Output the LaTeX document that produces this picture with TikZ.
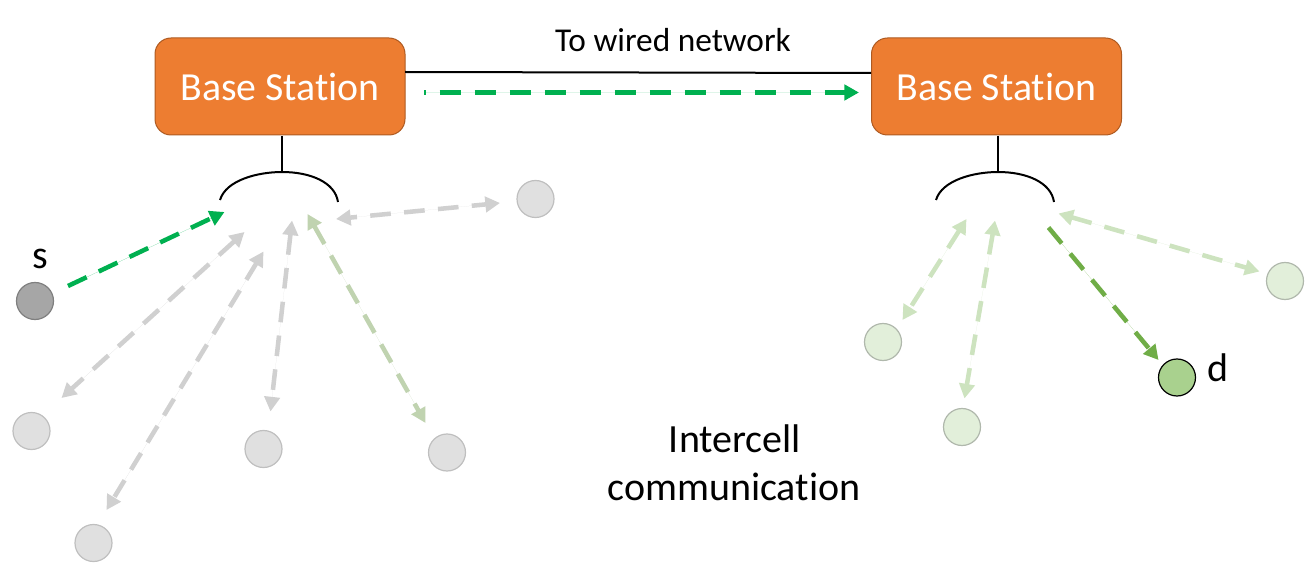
\documentclass[tikz,border=0pt]{standalone}
\usepackage{fontspec}
\setmainfont[Ligatures=NoCommon]{Carlito}
\usetikzlibrary{arrows.meta}
\definecolor{orangefill}{HTML}{ED7D31}
\definecolor{orangeedge}{HTML}{AE5A21}
\definecolor{brightgreen}{HTML}{00B050}
\definecolor{darkgreen}{HTML}{70AD47}
\definecolor{paleline}{HTML}{CDE3BF}
\definecolor{sageline}{HTML}{C0D3B0}
\definecolor{greyline}{HTML}{D0D0D0}
\definecolor{greyfill}{HTML}{E0E0E0}
\definecolor{greyedge}{HTML}{BFBFBF}
\definecolor{palefill}{HTML}{E2EFDA}
\definecolor{paleedge}{HTML}{B0B8AC}
\definecolor{dfill}{HTML}{A9D18E}
\definecolor{sfill}{HTML}{A6A6A6}
\definecolor{sedge}{HTML}{7F7F7F}
\tikzset{
  x=0.75pt,y=-0.75pt,
  bsbox/.style={draw=orangeedge,fill=orangefill,line width=0.75pt,rounded corners=12pt,
    minimum width=187.5pt,minimum height=72.75pt,inner sep=0pt,text=white,font=\fontsize{29.85}{34}\selectfont},
  device/.style={circle,minimum size=27.75pt,inner sep=0pt,line width=0.9pt},
  greydev/.style={device,draw=greyedge,fill=greyfill},
  paledev/.style={device,draw=paleedge,fill=palefill},
  label/.style={inner sep=0pt,anchor=base,text=black,font=\fontsize{30}{34}\selectfont},
  smalllabel/.style={label,font=\fontsize{25}{30}\selectfont},
  wire/.style={draw=black,line width=1.5pt},
  link/.style={line width=3.4pt,dash pattern=on 15.5pt off 10pt},
  onetip/.style={link,-{Triangle[length=11pt,width=11.5pt]}},
  twotip/.style={link,{Triangle[length=11pt,width=11.5pt]}-{Triangle[length=11pt,width=11.5pt]}},
}
\begin{document}
\begin{tikzpicture}
\useasboundingbox (0,0) rectangle (1315,574);
% base stations
\node[bsbox] (b1) at (280,86.5) {\raisebox{-0.75pt}{Base Station}};
\node[bsbox] (b2) at (996.5,86.5) {\raisebox{-0.75pt}{Base Station}};
% devices
\node[device,draw=sedge,fill=sfill] (s) at (35,301) {};
\node[greydev] (g1) at (31.5,431) {};
\node[greydev] (g2) at (93.5,543) {};
\node[greydev] (g3) at (263.5,449) {};
\node[greydev] (g4) at (447,452.5) {};
\node[greydev] (g5) at (535.5,199) {};
\node[paledev] (p1) at (883,342) {};
\node[paledev] (p2) at (962,427) {};
\node[paledev] (p3) at (1285,281) {};
\node[device,draw=black,fill=dfill] (d) at (1177,377.5) {};
% labels
\node[smalllabel] (lw) at (673,52) {To wired network};
\node[label] (ls) at (40,269) {s};
\node[label] (ld) at (1218,381) {d};
\node[label] (li1) at (735,452) {Intercell};
\node[label] (li2) at (734,500) {communication};
% connector ends
\coordinate (w1) at (405,72);
\coordinate (w2) at (871,73);
\coordinate (st1a) at (282,136);
\coordinate (st1b) at (282,172);
\coordinate (st2a) at (998,136);
\coordinate (st2b) at (998,172);
\coordinate (ga) at (424,92.5);
\coordinate (gb) at (859,92.5);
\coordinate (a0a) at (68,286);   \coordinate (a0b) at (224.5,212);
\coordinate (a1a) at (244.5,232); \coordinate (a1b) at (61.5,398);
\coordinate (a2a) at (263.5,251.5); \coordinate (a2b) at (106.5,510);
\coordinate (a3a) at (292,220.5); \coordinate (a3b) at (270.5,411.5);
\coordinate (a4a) at (307.5,214); \coordinate (a4b) at (425.5,423);
\coordinate (a5a) at (336,219); \coordinate (a5b) at (500,203);
\coordinate (a6a) at (966.5,219); \coordinate (a6b) at (902.5,320);
\coordinate (a7a) at (995,220.5); \coordinate (a7b) at (964.5,398.5);
\coordinate (a8a) at (1048.5,227.5); \coordinate (a8b) at (1158.5,360);
\coordinate (a9a) at (1058.5,213.5); \coordinate (a9b) at (1259.5,271.5);
% wires
\draw[wire] (w1) -- (w2);
\draw[wire] (st1a) -- (st1b);
\draw[wire] (st2a) -- (st2b);
\draw[wire] (220,200) .. controls (226,180) and (258,172) .. (282,172) .. controls (310,172) and (335,182) .. (338,202);
\draw[wire] (936,200) .. controls (942,180) and (974,172) .. (998,172) .. controls (1026,172) and (1051,182) .. (1054,202);
% links
\draw[onetip,draw=brightgreen,fill=brightgreen,dash pattern=on 15.75pt off 10.5pt,dash phase=14.6pt] (ga) -- (gb);
\draw[onetip,draw=brightgreen,fill=brightgreen] (a0a) -- (a0b);
\draw[twotip,draw=greyline,fill=greyline] (a1a) -- (a1b);
\draw[twotip,draw=greyline,fill=greyline,dash pattern=on 14.5pt off 9.3pt] (a2a) -- (a2b);
\draw[twotip,draw=greyline,fill=greyline] (a3a) -- (a3b);
\draw[twotip,draw=sageline,fill=sageline] (a4a) -- (a4b);
\draw[twotip,draw=greyline,fill=greyline,dash phase=10pt] (a5a) -- (a5b);
\draw[twotip,draw=paleline,fill=paleline] (a6a) -- (a6b);
\draw[twotip,draw=paleline,fill=paleline] (a7a) -- (a7b);
\draw[onetip,draw=darkgreen,fill=darkgreen] (a8a) -- (a8b);
\draw[twotip,draw=paleline,fill=paleline] (a9a) -- (a9b);
\end{tikzpicture}
\end{document}
